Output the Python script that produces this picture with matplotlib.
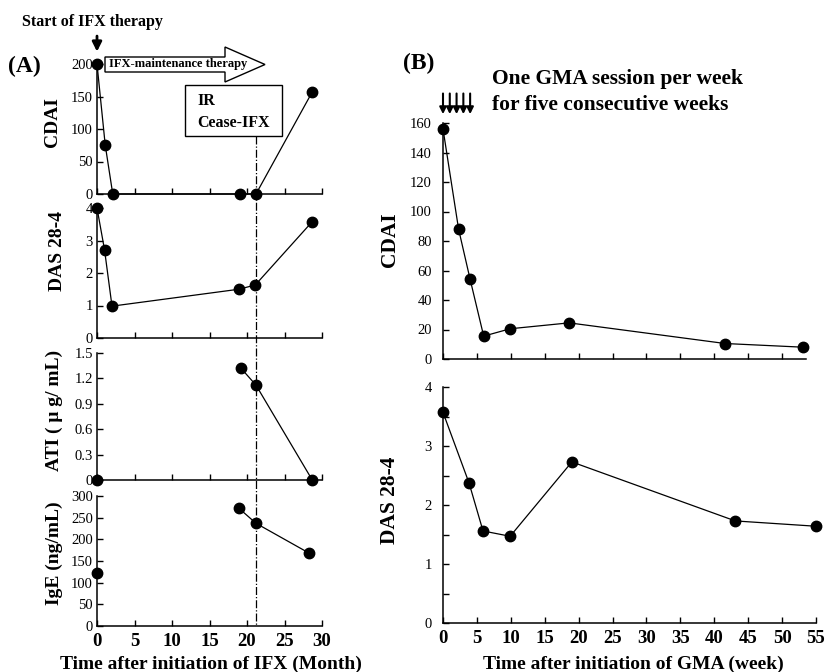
import matplotlib
matplotlib.use('Agg')
import matplotlib.pyplot as plt
from matplotlib.patches import FancyArrow, Rectangle
from matplotlib.lines import Line2D
import matplotlib.transforms as mtransforms

# ---- panel (A): months after start of IFX ----
cdai_a_month = [0, 1.1, 2.1, 19.1, 21.2, 28.7]
cdai_a = [200, 75, 0, 0, 0, 157]
das_a_month = [0, 1.0, 2.0, 18.9, 21.1, 28.7]
das_a = [4.0, 2.72, 0.98, 1.5, 1.63, 3.58]
ati_month = [0, 19.2, 21.2, 28.7]
ati = [0, 1.32, 1.12, 0]
ige_month = [0, 18.9, 21.2, 28.3]
ige = [122, 272, 237, 168]
ifx_stop = 21.2  # IR / cease IFX

# ---- panel (B): weeks after start of GMA ----
cdai_b_week = [0, 2.3, 4, 6, 9.9, 18.6, 41.6, 53.1]
cdai_b = [156, 88, 54, 15.5, 20.5, 24.5, 10.5, 8]
das_b_week = [0, 3.85, 5.9, 9.9, 19, 43.1, 55]
das_b = [3.57, 2.37, 1.56, 1.47, 2.73, 1.73, 1.64]
gma_weeks = [0, 1, 2, 3, 4]  # one session per week

month_ticks = [0, 5, 10, 15, 20, 25, 30]
week_ticks = [0, 5, 10, 15, 20, 25, 30, 35, 40, 45, 50, 55]
cdai_a_ticks = [0, 50, 100, 150, 200]
das_ticks = [0, 1, 2, 3, 4]
ati_ticks = [0, 0.3, 0.6, 0.9, 1.2, 1.5]
ati_labels = ['0', '0.3', '0.6', '0.9', '1.2', '1.5']
ige_ticks = [0, 50, 100, 150, 200, 250, 300]
cdai_b_ticks = [0, 20, 40, 60, 80, 100, 120, 140, 160]

W, H = 827, 672
plt.rcParams['font.family'] = ['Liberation Serif', 'DejaVu Serif']
fig = plt.figure(figsize=(W / 100, H / 100), dpi=100)


def px_axes(left, top, right, bottom):
    # axes placed by pixel box of the reference
    return fig.add_axes([left / W, 1 - bottom / H, (right - left) / W, (bottom - top) / H])


def style(ax, yticks, ylabels=None, pad=3):
    ax.set_facecolor('none')
    ax.spines['top'].set_visible(False)
    ax.spines['right'].set_visible(False)
    ax.spines['left'].set_linewidth(1.1)
    ax.spines['bottom'].set_linewidth(1.1)
    ax.tick_params(direction='in', length=4, width=1.0, labelsize=10.5, pad=pad)
    ax.set_yticks(yticks)
    if ylabels is not None:
        ax.set_yticklabels(ylabels)


def series(ax, x, y):
    ax.plot(x, y, color='black', lw=0.9, marker='o', ms=7.5, clip_on=False, zorder=3)


def bold_xticks(ax):
    ax.tick_params(axis='x', labelsize=13.5, pad=5)
    for lbl in ax.get_xticklabels():
        lbl.set_fontweight('bold')


# panel A
axA1 = px_axes(97, 64, 322, 194)
axA2 = px_axes(97, 208, 322, 338)
axA3 = px_axes(97, 353, 322, 480)
axA4 = px_axes(97, 496, 322, 626)
style(axA1, cdai_a_ticks)
style(axA2, das_ticks)
style(axA3, ati_ticks, ati_labels)
style(axA4, ige_ticks)
axA1.set_ylim(0, 200)
axA2.set_ylim(0, 4)
axA3.set_ylim(0, 1.5)
axA4.set_ylim(0, 300)
for ax in [axA1, axA2, axA3, axA4]:
    ax.set_xlim(0, 30)
    ax.set_xticks(month_ticks)
for ax in [axA1, axA2, axA3]:
    ax.set_xticklabels([])
bold_xticks(axA4)

series(axA1, cdai_a_month, cdai_a)
series(axA2, das_a_month, das_a)
series(axA3, ati_month[:1], ati[:1])
series(axA3, ati_month[1:], ati[1:])
series(axA4, ige_month[:1], ige[:1])
series(axA4, ige_month[1:], ige[1:])

# panel B
axB1 = px_axes(443, 123, 816, 359)
axB2 = px_axes(443, 387, 816, 623)
style(axB1, cdai_b_ticks, pad=8)
style(axB2, das_ticks, pad=8)
axB1.set_ylim(0, 160)
axB2.set_ylim(0, 4)
axB1.set_xlim(0, 55)
axB2.set_xlim(0, 55)
axB1.set_xticks(week_ticks[:-1])
axB1.set_xticklabels([])
axB1.spines['bottom'].set_bounds(0, 53.5)
axB2.set_xticks(week_ticks)
axB2.set_yticks([0.5, 1.5, 2.5, 3.5], minor=True)
axB2.tick_params(which='minor', direction='in', length=4, width=1.0)
bold_xticks(axB2)

series(axB1, cdai_b_week, cdai_b)
series(axB2, das_b_week, das_b)

# GMA session arrows
for w in gma_weeks:
    axB1.annotate('', xy=(w, 166), xytext=(w, 180), annotation_clip=False,
                  arrowprops=dict(arrowstyle='-|>', color='black', lw=1.5, mutation_scale=10,
                                  shrinkA=0, shrinkB=0))

# start of IFX arrow
axA1.annotate('', xy=(0, 219), xytext=(0, 243), annotation_clip=False,
              arrowprops=dict(arrowstyle='-|>', color='black', lw=2.0, mutation_scale=14,
                              shrinkA=0, shrinkB=0))

# overlay in pixel units for labels and callouts
ov = fig.add_axes([0, 0, 1, 1])
ov.set_xlim(0, W)
ov.set_ylim(H, 0)
ov.axis('off')
ov.set_facecolor('none')

# dash-dot line where IFX was stopped, through all of panel A
trans = mtransforms.blended_transform_factory(axA4.transData, ov.transData)
fig.add_artist(Line2D([ifx_stop, ifx_stop], [136, 626], transform=trans, color='black',
                      lw=0.9, linestyle='-.'))

ov.add_patch(FancyArrow(105, 64.5, 160, 0, width=15, head_width=35, head_length=40,
                        length_includes_head=True, facecolor='white', edgecolor='black', lw=1.0))
ov.text(109, 64.5, 'IFX-maintenance therapy', fontsize=9, fontweight='bold', va='center', ha='left')

ov.add_patch(Rectangle((185, 85), 97, 51, facecolor='white', edgecolor='black', lw=1.0))
ov.text(197, 101, 'IR', fontsize=11.5, fontweight='bold', va='center', ha='left')
ov.text(197, 123, 'Cease-IFX', fontsize=11.5, fontweight='bold', va='center', ha='left')

ov.text(22, 22, 'Start of IFX therapy', fontsize=11.5, fontweight='bold', va='center', ha='left')
ov.text(8, 66, '(A)', fontsize=17, fontweight='bold', va='center', ha='left')
ov.text(403, 63, '(B)', fontsize=17, fontweight='bold', va='center', ha='left')
ov.text(492, 79, 'One GMA session per week', fontsize=15.5, fontweight='bold', va='center', ha='left')
ov.text(492, 105, 'for five consecutive weeks', fontsize=15.5, fontweight='bold', va='center', ha='left')

ylab = dict(rotation=90, ha='center', va='center', fontweight='bold')
ov.text(53, 122, 'CDAI', fontsize=14, **ylab)
ov.text(58, 251, 'DAS 28-4', fontsize=14, **ylab)
ov.text(54, 410, 'ATI ( μ g/ mL)', fontsize=14, **ylab)
ov.text(54, 553, 'IgE (ng/mL)', fontsize=14, **ylab)
ov.text(390, 240, 'CDAI', fontsize=15.5, **ylab)
ov.text(390, 500, 'DAS 28-4', fontsize=15.5, **ylab)

ov.text(211, 664, 'Time after initiation of IFX (Month)', fontsize=14, fontweight='bold',
        ha='center', va='center')
ov.text(633, 664, 'Time after initiation of GMA (week)', fontsize=14, fontweight='bold',
        ha='center', va='center')

fig.savefig('out.png', dpi=100)
